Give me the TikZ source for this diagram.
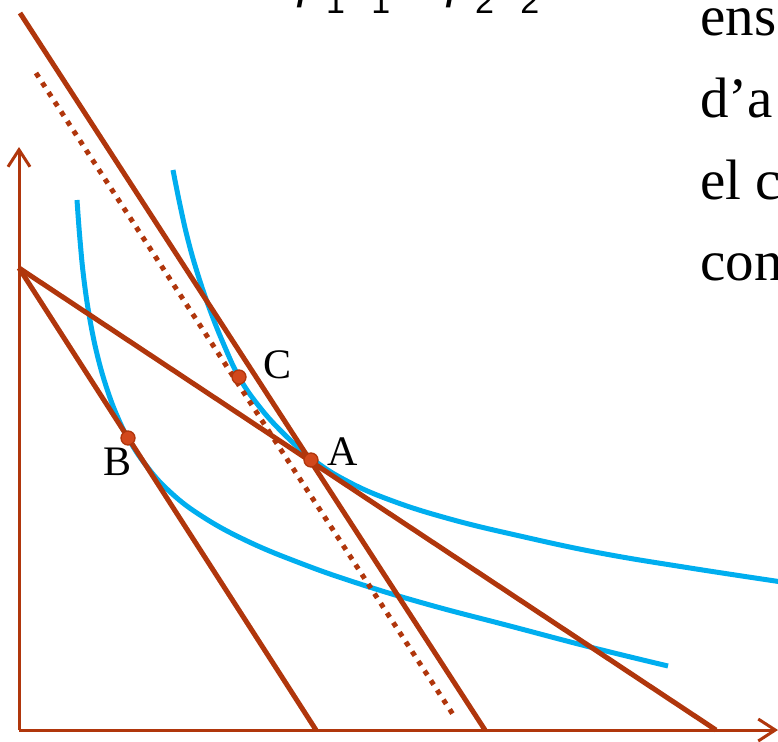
\documentclass[tikz,border=0pt]{standalone}
\usepackage{fontspec}
\setmainfont{Liberation Serif}
\newfontfamily\eqfont{Liberation Sans}
\usetikzlibrary{arrows.meta}

\definecolor{rust}{HTML}{B0360C}
\definecolor{rustdot}{HTML}{D2481C}
\definecolor{skyblue}{HTML}{00AEEF}
\newcommand{\lowsub}[1]{\raisebox{-16pt}{\fontsize{34}{34}\selectfont #1}}

\begin{document}
\begin{tikzpicture}[x=1pt, y=-1pt,
    axis/.style={rust, line width=3pt, -{Straight Barb[length=17pt,width=22pt]}},
    budget/.style={rust, line width=5pt},
    compensated/.style={rust, line width=5pt, dash pattern=on 5pt off 6.5pt},
    indiff/.style={skyblue, line width=5pt},
    pt/.style={circle, fill=rustdot, draw=rust, line width=1.3pt, inner sep=0pt, minimum size=14pt},
    ptlabel/.style={font=\fontsize{42}{42}\selectfont, inner sep=0pt, anchor=base west},
    body/.style={font=\fontsize{57}{82}\selectfont, anchor=base west, inner sep=0pt}
]
\useasboundingbox (0,0) rectangle (778,741);
\clip (0,0) rectangle (778,741);

% Text around the figure (cut by the page)
\node[anchor=base west, inner sep=0pt, font=\eqfont\fontsize{50}{50}\selectfont] (eq) at (298,-2)
    {\textit{p}\lowsub{1}\textit{x}\lowsub{1} = \textit{p}\lowsub{2}\textit{x}\lowsub{2}};
\foreach \word [count=\i] in {ens, d’a, el c, con}
    \node[body] (line\i) at (700, {36+81.5*(\i-1)}) {\word};

% Axes
\coordinate (O) at (19,730);
\coordinate (ytop) at (19,147);
\coordinate (xend) at (778,730);
\draw[axis] (O) -- (ytop);
\draw[axis] (O) -- (xend);

% Indifference curves
\draw[indiff] plot[smooth, tension=0.7] coordinates {
    (173,170) (180,205) (188,240) (198,275) (210,310) (224,345) (239,377)
    (258,405) (282,432) (311,458) (345,480) (390,500) (450,519) (520,536)
    (600,553) (690,568) (782,582)};
\draw[indiff] plot[smooth, tension=0.7] coordinates {
    (77,200) (80,240) (84,280) (90,320) (98,358) (108,392) (118,418) (128,438)
    (145,464) (168,490) (200,515) (245,540) (300,563) (360,584) (430,605)
    (510,626) (590,647) (668,666)};

% Budget lines
\coordinate (top1) at (20,13);
\coordinate (end1) at (485,730);
\coordinate (top0) at (19,268);
\coordinate (end2) at (716,730);
\coordinate (end3) at (316,730);
\coordinate (topd) at (36,73);
\coordinate (endd) at (454,716);
\draw[budget] (top1) -- (end1);
\draw[budget] (top0) -- (end2);
\draw[budget] (top0) -- (end3);
\draw[compensated] (topd) -- (endd);

% Baskets
\node[pt] (A) at (311,460) {};
\node[pt] (B) at (128,438) {};
\node[pt] (C) at (239,377) {};
\node[ptlabel] (labA) at (327,465) {A};
\node[ptlabel] (labB) at (103,475) {B};
\node[ptlabel] (labC) at (263,378) {C};

\end{tikzpicture}
\end{document}
